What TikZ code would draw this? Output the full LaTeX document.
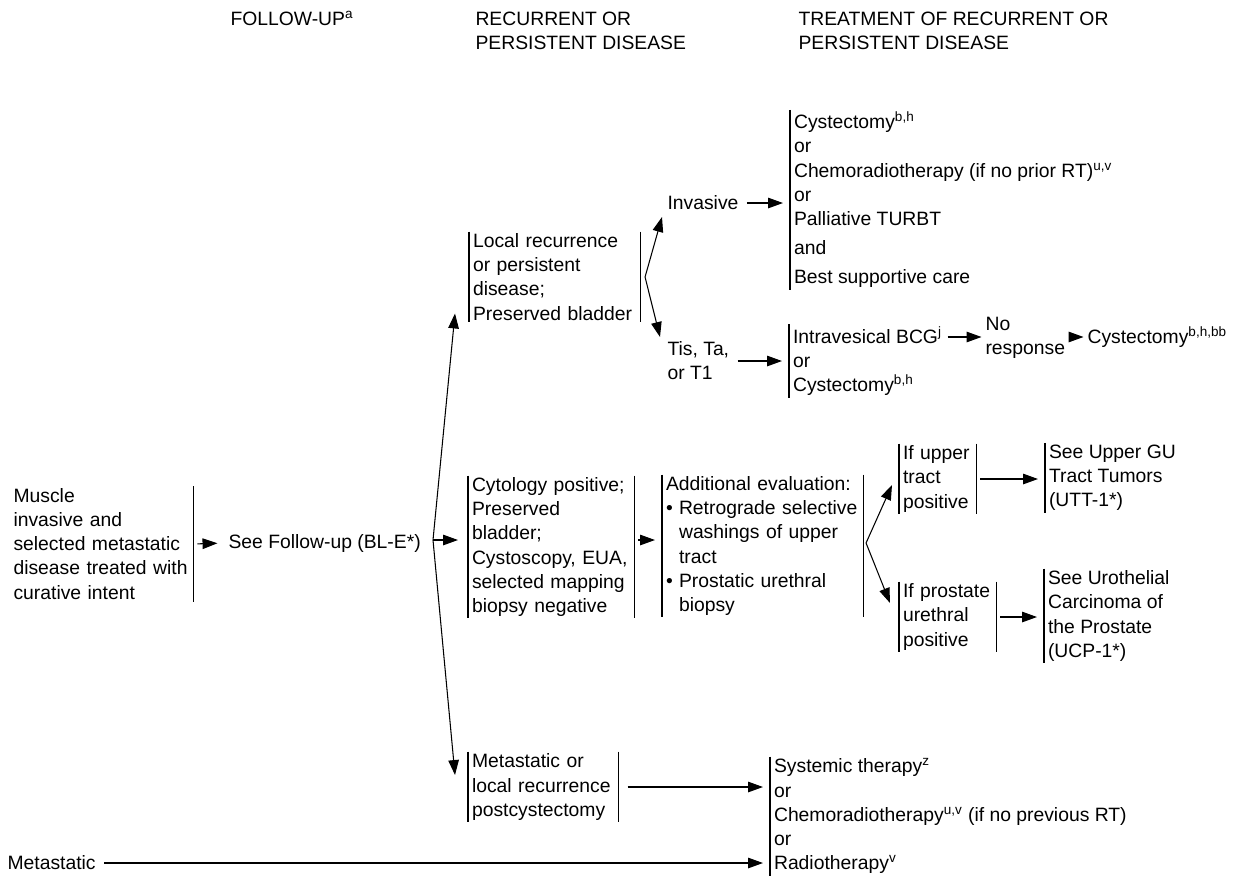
\documentclass[tikz,border=0pt]{standalone}
\usepackage{fontspec}
\setmainfont{Liberation Sans}
\usepackage{tikz}
\usetikzlibrary{positioning,calc,arrows.meta}

\newcommand{\ebul}{\makebox[7.4pt][l]{\textbullet}}
\newcommand{\eind}{\hspace*{7.4pt}}

\begin{document}
\begin{tikzpicture}[
  x=0.02cm, y=-0.02cm,
  line width=0.6pt,
  font=\fontsize{11pt}{13.7pt}\selectfont,
  every node/.style={inner xsep=2pt, inner ysep=1pt},
  txt/.style={align=left, anchor=west},
  lbar/.style={txt, append after command={(\tikzlastnode.north west) edge[-] (\tikzlastnode.south west)}},
  rbar/.style={append after command={(\tikzlastnode.north east) edge[-] (\tikzlastnode.south east)}},
  lrbar/.style={lbar, rbar, text width=#1},
  arrow/.style={-{Triangle[length=8.5pt,width=6pt]}},
  link/.style={arrow, shorten <=2.5pt, shorten >=4pt}
]
\useasboundingbox (0,0) rectangle (1241,880);

% column heads
\node[txt] (hfollow) at (226.5,18) {FOLLOW-UP\textsuperscript{a}};
\node[txt] (hrecur) at (471.5,30.5) {RECURRENT OR\\PERSISTENT DISEASE};
\node[txt] (htreat) at (794.5,30.5) {TREATMENT OF RECURRENT OR\\PERSISTENT DISEASE};

% start
\node[txt, rbar, text width=3.51cm] (muscle) at (9.5,544) {Muscle\\invasive and\\selected metastatic\\disease treated with\\curative intent};
\node[txt] (follow) at (224.5,543) {See Follow-up (BL-E*)};
\node[txt] (metast) at (3.5,863) {Metastatic};
\coordinate (split) at (433,540);

% recurrent or persistent disease
\node[lrbar=3.26cm] (local) at (469,277) {Local recurrence\\or persistent\\disease;\\Preserved bladder};
\node[lrbar=3.16cm] (cyto) at (468,547) {Cytology positive;\\Preserved\\bladder;\\Cystoscopy, EUA,\\selected mapping\\biopsy negative};
\node[lrbar=2.84cm] (metor) at (468,787) {Metastatic or\\local recurrence\\postcystectomy};

% local recurrence branch
\coordinate (lsplit) at ($(local.east)+(5,0)$);
\node[txt] (invasive) at (663.5,203) {Invasive};
\node[txt] (tis) at (663.5,361) {Tis, Ta,\\or T1};
\node[lbar] (cystopt) at (790,200) {Cystectomy\textsuperscript{b,h}\\or\\Chemoradiotherapy (if no prior RT)\textsuperscript{u,v}\\or\\Palliative TURBT\\[3pt]and\\[3pt]Best supportive care};
\node[lbar] (bcg) at (789,361) {Intravesical BCG\textsuperscript{j}\\or\\Cystectomy\textsuperscript{b,h}};
\node[txt] (noresp) at (981.5,338) {No\\response};
\node[txt] (cystbb) at (1083.5,337) {Cystectomy\textsuperscript{b,h,bb}};

% cytology branch
\node[lrbar=3.86cm] (addeval) at (662,546) {Additional evaluation:\\\ebul Retrograde selective\\\eind washings of upper\\\eind tract\\\ebul Prostatic urethral\\\eind biopsy};
\coordinate (asplit) at ($(addeval.east)+(3,-3)$);
\node[lrbar=1.38cm] (ifupper) at (899,479) {If upper\\tract\\positive};
\node[lrbar=1.78cm] (ifpros) at (899,617) {If prostate\\urethral\\positive};
\node[lbar] (seeupper) at (1045,478) {See Upper GU\\Tract Tumors\\(UTT-1*)};
\node[lbar] (seeuro) at (1044,616) {See Urothelial\\Carcinoma of\\the Prostate\\(UCP-1*)};

% postcystectomy / metastatic
\node[lbar] (therapy) at (770,816) {Systemic therapy\textsuperscript{z}\\or\\Chemoradiotherapy\textsuperscript{u,v} (if no previous RT)\\or\\Radiotherapy\textsuperscript{v}};

% connectors
\draw[link] (muscle.east) -- (follow.west);
\draw[arrow] (split) -- ($(local.south west)+(-14,-9)$);
\draw[arrow] (split) -- ($(split -| cyto.west)+(-10,0)$);
\draw[arrow] (split) -- ($(metor.west)+(-13,-12)$);
\draw[arrow] (lsplit) -- ($(invasive.west)+(-1.5,14)$);
\draw[arrow] (lsplit) -- ($(tis.west)+(-3.5,-24)$);
\draw[link] (invasive.east) -- (invasive.east -| cystopt.west);
\draw[link] (tis.east) -- (tis.east -| bcg.west);
\draw[arrow] ([xshift=1pt]bcg.east |- cystbb.west) -- (noresp.west |- cystbb.west);
\draw[arrow] (noresp.east |- cystbb.west) -- (cystbb.west);
\draw[link] (cyto.east |- split) -- (addeval.west |- split);
\draw[arrow] (asplit) -- ($(ifupper.west)+(-7,6)$);
\draw[arrow] (asplit) -- ($(ifpros.west)+(-9,-14)$);
\draw[link] (ifupper.east) -- (ifupper.east -| seeupper.west);
\draw[link] (ifpros.east) -- (ifpros.east -| seeuro.west);
\draw[link, shorten <=5.5pt] (metor.east) -- (metor.east -| therapy.west);
\draw[link] (metast.east) -- (metast.east -| therapy.west);
\end{tikzpicture}
\end{document}
